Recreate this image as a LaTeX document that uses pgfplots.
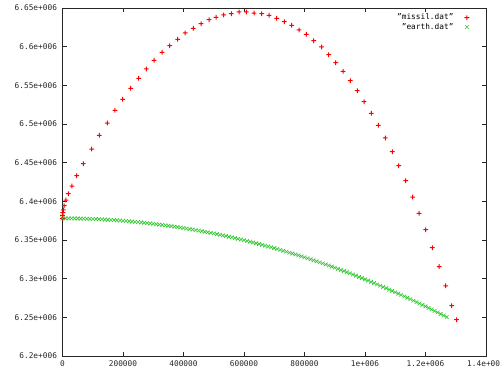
\documentclass[border=0pt]{standalone}
\usepackage{fontspec}
\setmainfont{DejaVu Sans Mono}
\usepackage{pgfplots}
\pgfplotsset{compat=1.18}
\usepackage{pgfplotstable}
\pgfplotstableread{
x y
0 6378000
300 6381700
1300 6385300
2600 6388800
5600 6394350
11240 6401700
19170 6409870
31400 6419800
46940 6433150
68760 6448660
96530 6467670
121650 6485390
148100 6501290
173550 6517710
199010 6531940
225460 6546160
251900 6559090
277030 6571120
302480 6582370
328930 6592710
354380 6601250
380830 6609520
405620 6617670
432400 6623750
457850 6629700
484300 6634870
507440 6637970
532890 6640950
558020 6642630
583470 6644830
607600 6644830
633060 6643530
658510 6642630
682650 6640560
708100 6636680
733230 6632280
757690 6627630
781820 6621550
805950 6615990
830420 6607710
856200 6599570
880000 6589610
903140 6579270
927280 6568150
951410 6555990
974550 6543060
996700 6528830
1020830 6513830
1043970 6498320
1067110 6481900
1090250 6464180
1111410 6446080
1134550 6426680
1157690 6405600
1178520 6384520
1200670 6363320
1222480 6340040
1245300 6315730
1266780 6290780
1286620 6265040
1302490 6246940
}\missil
\pgfplotstableread{
x y
0 6378000
10000 6377992
20000 6377969
30000 6377929
40000 6377875
50000 6377804
60000 6377718
70000 6377616
80000 6377498
90000 6377365
100000 6377216
110000 6377051
120000 6376871
130000 6376675
140000 6376463
150000 6376236
160000 6375993
170000 6375734
180000 6375459
190000 6375169
200000 6374863
210000 6374542
220000 6374205
230000 6373852
240000 6373483
250000 6373098
260000 6372698
270000 6372283
280000 6371851
290000 6371404
300000 6370941
310000 6370462
320000 6369967
330000 6369457
340000 6368931
350000 6368389
360000 6367832
370000 6367259
380000 6366670
390000 6366065
400000 6365445
410000 6364808
420000 6364156
430000 6363488
440000 6362805
450000 6362105
460000 6361390
470000 6360659
480000 6359912
490000 6359150
500000 6358371
510000 6357577
520000 6356767
530000 6355941
540000 6355099
550000 6354242
560000 6353368
570000 6352479
580000 6351574
590000 6350653
600000 6349716
610000 6348763
620000 6347794
630000 6346809
640000 6345809
650000 6344793
660000 6343760
670000 6342712
680000 6341648
690000 6340567
700000 6339471
710000 6338359
720000 6337231
730000 6336087
740000 6334927
750000 6333751
760000 6332559
770000 6331351
780000 6330127
790000 6328887
800000 6327631
810000 6326358
820000 6325070
830000 6323766
840000 6322445
850000 6321109
860000 6319756
870000 6318388
880000 6317003
890000 6315602
900000 6314185
910000 6312752
920000 6311302
930000 6309837
940000 6308355
950000 6306857
960000 6305343
970000 6303813
980000 6302266
990000 6300703
1000000 6299124
1010000 6297529
1020000 6295917
1030000 6294289
1040000 6292645
1050000 6290985
1060000 6289308
1070000 6287615
1080000 6285906
1090000 6284180
1100000 6282438
1110000 6280679
1120000 6278905
1130000 6277113
1140000 6275306
1150000 6273481
1160000 6271641
1170000 6269784
1180000 6267910
1190000 6266020
1200000 6264114
1210000 6262191
1220000 6260251
1230000 6258295
1240000 6256322
1250000 6254333
1260000 6252327
1270000 6250305
}\earth
\definecolor{gpred}{RGB}{255,0,0}
\definecolor{gpgreen}{RGB}{40,200,40}
\pgfdeclareplotmark{gpplus}{%
  \pgfpathrectangle{\pgfpoint{-\pgfplotmarksize}{-0.5bp}}{\pgfpoint{2\pgfplotmarksize}{1bp}}%
  \pgfpathrectangle{\pgfpoint{-0.5bp}{-\pgfplotmarksize}}{\pgfpoint{1bp}{2\pgfplotmarksize}}%
  \pgfusepathqfill}
\begin{document}
\begin{tikzpicture}
\begin{axis}[
  at={(62.5bp,19bp)}, anchor=south west,
  scale only axis, width=423.5bp, height=348bp,
  xmin=0, xmax=1400000, ymin=6200000, ymax=6650000,
  xtick={0,200000,400000,600000,800000,1000000,1200000,1400000},
  xticklabels={0,200000,400000,600000,800000,1e+006,1.2e+006,1.4e+006},
  ytick={6200000,6250000,6300000,6350000,6400000,6450000,6500000,6550000,6600000,6650000},
  yticklabels={6.2e+006,6.25e+006,6.3e+006,6.35e+006,6.4e+006,6.45e+006,6.5e+006,6.55e+006,6.6e+006,6.65e+006},
  scaled x ticks=false, scaled y ticks=false,
  tick align=inside, major tick length=4bp,
  tick style={black!85, line width=0.6bp},
  axis line style={black!85, line width=0.9bp},
  every tick label/.append style={font=\fontsize{7.8bp}{9.5bp}\selectfont, text=black!85},
  yticklabel style={xshift=-2bp},
  xticklabel style={yshift=-1.5bp},
  clip=false,
  legend plot pos=right, legend cell align=right,
  legend style={draw=none, fill=none, font=\fontsize{7.8bp}{9.5bp}\selectfont,
    at={(axis description cs:0.968,0.995)}, anchor=north east, row sep=-2bp,
    /tikz/every odd column/.append style={column sep=9bp}},
]
\addplot[only marks, mark=gpplus, mark size=2.4bp, color=gpred, fill=gpred, mark options={fill=gpred, draw=none}] table {\missil};
\addlegendentry{"missil.dat"}
\addplot[only marks, mark=x, mark size=2.6bp, gpgreen, mark options={draw=gpgreen, line width=0.6bp}] table {\earth};
\addlegendentry{"earth.dat"}
\end{axis}
\pgfresetboundingbox
\path[use as bounding box] (0,0) rectangle (500bp,375bp);
\end{tikzpicture}
\end{document}
